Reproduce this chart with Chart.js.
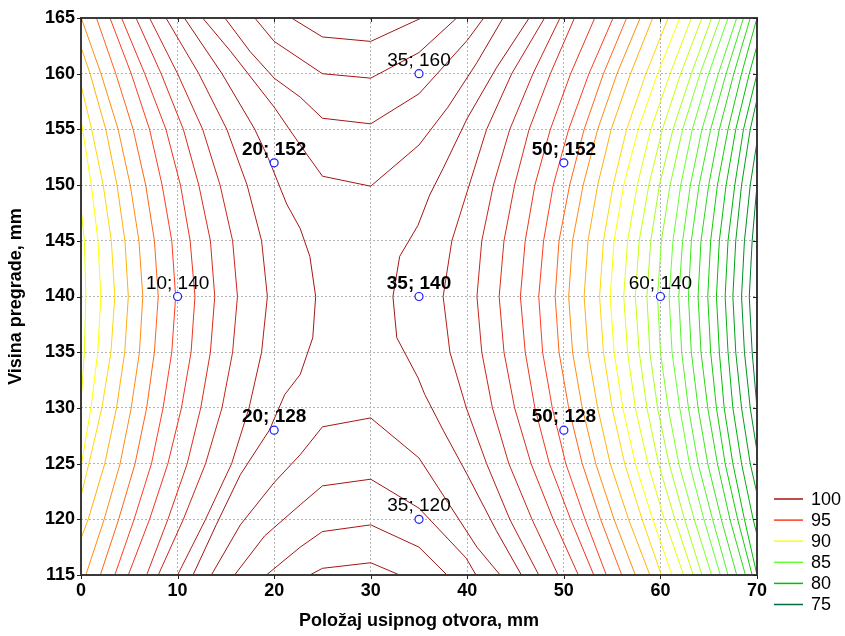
<!DOCTYPE html>
<html>
<head>
<meta charset="utf-8">
<title>Contour</title>
<script src="https://cdn.jsdelivr.net/npm/chart.js@4.4.1/dist/chart.umd.min.js"></script>
<style>
  body { margin: 0; background: #fff; }
  #wrap { width: 845px; height: 636px; }
</style>
</head>
<body>
<div id="wrap"><canvas id="contourChart" width="845" height="636"></canvas></div>
<script>
// measured points with their labels
const pointX = [10, 20, 35, 50, 60, 50, 35, 20, 35];
const pointY = [140, 152, 160, 152, 140, 128, 120, 128, 140];
const pointBold = [false, true, false, true, false, true, false, true, true];

// contour lines as [x, y] vertices
const leftLevels = [89, 90, 91, 92, 93, 94, 95, 96, 97, 98, 99, 100];
const leftLines = [
    [[0,148],[0.35,145],[0.5,140],[0.35,135],[0,130.5]],
    [[0,155.9],[1.07,150],[1.76,145],[2.05,140],[1.74,135],[1.03,130],[0,124.7]],
    [[0,159],[1.1,155],[2.3,150],[3.14,145],[3.5,140],[3.1,135],[2.16,130],[0.82,125],[0,122.1]],
    [[0,162.4],[0.94,160],[2.57,155],[3.73,150],[4.55,145],[4.9,140],[4.53,135],[3.68,130],[2.46,125],[0.75,120],[0,118.3]],
    [[0.03,165],[2.07,160],[3.85,155],[5.1,150],[6.0,145],[6.4,140],[6.05,135],[5.2,130],[4.05,125],[2.4,120],[0.5,115]],
    [[1.6,165],[3.6,160],[5.4,155],[6.7,150],[7.6,145],[8.0,140],[7.6,135],[6.8,130],[5.6,125],[3.9,120],[2.0,115]],
    [[3.0,165],[5.2,160],[7.1,155],[8.4,150],[9.4,145],[9.8,140],[9.4,135],[8.5,130],[7.3,125],[5.5,120],[3.5,115]],
    [[4.2,165],[6.6,160],[8.8,155],[10.3,150],[11.3,145],[11.8,140],[11.4,135],[10.4,130],[9.0,125],[7.1,120],[4.9,115]],
    [[5.7,165],[8.3,160],[10.6,155],[12.2,150],[13.4,145],[13.85,140],[13.4,135],[12.4,130],[11.0,125],[9.0,120],[6.8,115]],
    [[7.1,165],[10.0,160],[12.6,155],[14.4,150],[15.7,145],[16.2,140],[15.7,135],[14.6,130],[12.9,125],[10.6,120],[8.0,115]],
    [[8.8,165],[12.2,160],[15.1,155],[17.2,150],[18.7,145],[19.3,140],[18.7,135],[17.4,130],[15.6,125],[12.9,120],[10.0,115]],
    [[10.7,165],[14.6,160],[18.0,155],[19.4,152.4],[21.3,148.3],[22.7,146.1],[23.7,143.6],[24.3,140],[24.0,136.3],[22.7,133],[21.1,131.2],[19.5,128],[16.5,124],[14,119.5],[11.6,115]]
];

const topLevels = [101, 102, 103, 104];
const topLines = [
    [[12.6,165],[15.5,162],[20,157],[22.7,153.6],[25,150.8],[30,149.9],[35,153.6],[38,157],[41,161],[43.7,165]],
    [[14.9,165],[17.5,162],[20,159.6],[22.7,157.9],[25,156],[30,155.5],[35,158.2],[40,163],[41.7,165]],
    [[18,165],[20,162.9],[25,160],[30,159.6],[35,161.9],[38.9,165]],
    [[21.8,165],[25,163.3],[30,162.9],[35,164.9],[35.2,165]]
];

const bottomLevels = [101, 102, 103, 104];
const bottomLines = [
    [[13.5,115],[16.5,119.5],[20,123.3],[22.7,125.8],[25,128.3],[30,129.1],[35,125.5],[38,121.5],[41,117.5],[43.4,115]],
    [[15.9,115],[19,118.5],[22.7,121.3],[25,123],[30,123.6],[35,121],[39.9,116.5],[40.9,115]],
    [[19.2,115],[22.7,117.5],[25,118.9],[30,119.5],[35,117.5],[37.9,115]],
    [[23.7,115],[25,115.6],[30,116.1],[33,115]]
];

const rightLevels = [100, 99, 98, 97, 96, 95, 94, 93, 92, 91, 90, 89, 88, 87, 86, 85, 84, 83, 82, 81, 80, 79, 78, 77, 76];
const rightLines = [
    [[46.4,165],[43,160.5],[40,156],[37.5,151.5],[36.1,149.1],[34.9,146.4],[33,143.6],[32.3,140],[32.7,136.3],[34.9,132.7],[35.6,131.2],[37.5,128],[40,124],[43,119],[45.6,115]],
    [[48.0,165],[44.6,160],[42.0,155],[40.2,150],[38.4,145],[37.5,140],[38.2,135],[39.9,130],[42.0,125],[44.4,120],[47.4,115]],
    [[49.6,165],[46.8,160],[44.4,155],[42.7,150],[41.5,145],[41.0,140],[41.5,135],[42.6,130],[44.3,125],[46.7,120],[49.4,115]],
    [[51.1,165],[48.6,160],[46.4,155],[44.9,150],[43.8,145],[43.3,140],[43.8,135],[44.9,130],[46.6,125],[48.9,120],[51.5,115]],
    [[53.2,165],[50.7,160],[48.6,155],[47.0,150],[46.0,145],[45.5,140],[46.0,135],[47.0,130],[48.5,125],[50.7,120],[53.1,115]],
    [[55.1,165],[52.6,160],[50.5,155],[48.9,150],[47.9,145],[47.4,140],[47.8,135],[48.8,130],[50.2,125],[52.2,120],[54.4,115]],
    [[56.5,165],[54.1,160],[52.1,155],[50.6,150],[49.5,145],[49.1,140],[49.5,135],[50.5,130],[51.9,125],[53.8,120],[56.0,115]],
    [[57.9,165],[55.5,160],[53.5,155],[52.0,150],[50.9,145],[50.5,140],[50.9,135],[51.9,130],[53.3,125],[55.2,120],[57.4,115]],
    [[59.2,165],[56.9,160],[54.9,155],[53.5,150],[52.5,145],[52.1,140],[52.5,135],[53.5,130],[54.8,125],[56.7,120],[58.9,115]],
    [[60.8,165],[58.5,160],[56.5,155],[55.1,150],[54.1,145],[53.7,140],[54.1,135],[55.0,130],[56.3,125],[58.1,120],[60.1,115]],
    [[62.0,165],[59.7,160],[57.7,155],[56.2,150],[55.2,145],[54.8,140],[55.2,135],[56.1,130],[57.4,125],[59.2,120],[61.2,115]],
    [[63.2,165],[61.0,160],[59.0,155],[57.6,150],[56.6,145],[56.2,140],[56.6,135],[57.4,130],[58.7,125],[60.4,120],[62.4,115]],
    [[64.3,165],[62.1,160],[60.2,155],[58.8,150],[57.8,145],[57.4,140],[57.8,135],[58.6,130],[59.8,125],[61.5,120],[63.4,115]],
    [[65.3,165],[63.2,160],[61.3,155],[59.9,150],[59.0,145],[58.6,140],[58.9,135],[59.7,130],[60.9,125],[62.5,120],[64.3,115]],
    [[66.2,165],[64.1,160],[62.3,155],[61.0,150],[60.1,145],[59.7,140],[60.0,135],[60.8,130],[61.9,125],[63.5,120],[65.3,115]],
    [[67.0,165],[65.0,160],[63.3,155],[62.1,150],[61.3,145],[60.9,140],[61.2,135],[62.0,130],[63.0,125],[64.5,120],[66.2,115]],
    [[67.9,165],[66.0,160],[64.3,155],[63.1,150],[62.3,145],[61.9,140],[62.2,135],[62.9,130],[63.9,125],[65.4,120],[67.0,115]],
    [[68.6,165],[66.8,160],[65.2,155],[64.0,150],[63.2,145],[62.9,140],[63.2,135],[63.9,130],[64.9,125],[66.3,120],[67.9,115]],
    [[69.3,165],[67.6,160],[66.1,155],[65.0,150],[64.2,145],[63.9,140],[64.2,135],[64.9,130],[65.9,125],[67.2,120],[68.8,115]],
    [[70.0,165],[68.4,160],[67.0,155],[65.9,150],[65.2,145],[64.9,140],[65.2,135],[65.8,130],[66.7,125],[68.0,120],[69.5,115]],
    [[70,162.5],[69.2,160],[67.8,155],[66.8,150],[66.1,145],[65.8,140],[66.1,135],[66.6,130],[67.5,125],[68.7,120],[70.0,115]],
    [[70,160],[68.6,155],[67.7,150],[67.0,145],[66.7,140],[67.0,135],[67.5,130],[68.4,125],[69.6,120],[70,118.6]],
    [[70,157.7],[69.3,155],[68.4,150],[67.8,145],[67.5,140],[67.8,135],[68.4,130],[69.3,125],[70,122.3]],
    [[70,153.9],[69.3,150],[68.7,145],[68.4,140],[68.7,135],[69.3,130],[70,126.1]],
    [[70,150],[69.5,145],[69.2,140],[69.5,135],[70,130]]
];

// legend entries and their colours (colour ramp stops)
const legendLevels = [100, 95, 90, 85, 80, 75];
const legendColors = ['#a31515', '#ff3d1f', '#ffff00', '#66ff33', '#00c000', '#006b3c'];

const FONT = 'Arial, "Liberation Sans", sans-serif';

function hexToRgb(h) {
    return [parseInt(h.substr(1, 2), 16), parseInt(h.substr(3, 2), 16), parseInt(h.substr(5, 2), 16)];
}

// colour of a level, blended between the two nearest legend stops
function levelColor(level) {
    if (level >= legendLevels[0]) return legendColors[0];
    for (let i = 0; i < legendLevels.length - 1; i++) {
        const hi = legendLevels[i], lo = legendLevels[i + 1];
        if (level <= hi && level >= lo) {
            const t = (hi - level) / (hi - lo);
            const a = hexToRgb(legendColors[i]), b = hexToRgb(legendColors[i + 1]);
            const c = a.map((v, k) => Math.round(v + (b[k] - v) * t));
            return 'rgb(' + c.join(',') + ')';
        }
    }
    return legendColors[legendColors.length - 1];
}

function contourSets(levels, lines) {
    return lines.map((pts, i) => ({
        label: String(levels[i]),
        data: pts.map(p => ({ x: p[0], y: p[1] })),
        showLine: true,
        borderColor: levelColor(levels[i]),
        borderWidth: 1,
        pointRadius: 0,
        pointHoverRadius: 0,
        tension: 0
    }));
}

const overlayPlugin = {
    id: 'overlay',
    afterDraw(chart) {
        const { ctx, chartArea: a, scales: { x, y } } = chart;
        ctx.save();

        // plot frame
        ctx.strokeStyle = '#3a3a3a';
        ctx.lineWidth = 2;
        ctx.strokeRect(a.left, a.top, a.right - a.left, a.bottom - a.top);

        // small tick marks: outside on left/bottom, inside on top/right
        ctx.lineWidth = 1;
        ctx.strokeStyle = '#222';
        ctx.beginPath();
        x.ticks.forEach(t => {
            const px = Math.round(x.getPixelForValue(t.value)) + 0.5;
            ctx.moveTo(px, a.bottom); ctx.lineTo(px, a.bottom + 4);
            ctx.moveTo(px, a.top); ctx.lineTo(px, a.top + 4);
        });
        y.ticks.forEach(t => {
            const py = Math.round(y.getPixelForValue(t.value)) + 0.5;
            ctx.moveTo(a.left - 4, py); ctx.lineTo(a.left, py);
            ctx.moveTo(a.right - 4, py); ctx.lineTo(a.right, py);
        });
        ctx.stroke();

        // point labels
        ctx.fillStyle = '#000';
        ctx.textAlign = 'center';
        ctx.textBaseline = 'alphabetic';
        pointX.forEach((px, i) => {
            ctx.font = (pointBold[i] ? 'bold ' : '') + '19px ' + FONT;
            ctx.fillText(px + '; ' + pointY[i], x.getPixelForValue(px), y.getPixelForValue(pointY[i]) - 8);
        });

        // legend
        ctx.font = '18px ' + FONT;
        ctx.textAlign = 'left';
        ctx.textBaseline = 'middle';
        legendLevels.forEach((lv, i) => {
            const ly = 499 + i * 21.1;
            ctx.strokeStyle = legendColors[i];
            ctx.lineWidth = 1.5;
            ctx.beginPath();
            ctx.moveTo(774, ly);
            ctx.lineTo(803, ly);
            ctx.stroke();
            ctx.fillStyle = '#000';
            ctx.fillText(String(lv), 811, ly + 1);
        });
        ctx.restore();
    }
};

const markerSet = {
    label: 'points',
    data: pointX.map((v, i) => ({ x: v, y: pointY[i] })),
    showLine: false,
    pointRadius: 4,
    pointBorderColor: '#1a1aff',
    pointBackgroundColor: '#ffffff',
    pointBorderWidth: 1.2
};

const datasets = [markerSet]
    .concat(contourSets(topLevels, topLines))
    .concat(contourSets(bottomLevels, bottomLines))
    .concat(contourSets(leftLevels, leftLines))
    .concat(contourSets(rightLevels, rightLines));

new Chart(document.getElementById('contourChart').getContext('2d'), {
    type: 'scatter',
    data: { datasets: datasets },
    options: {
        responsive: false,
        animation: false,
        devicePixelRatio: 1,
        layout: { padding: { left: 0, right: 88, top: 18, bottom: 0 } },
        plugins: {
            legend: { display: false },
            tooltip: { enabled: false }
        },
        scales: {
            x: {
                type: 'linear',
                min: 0,
                max: 70,
                ticks: {
                    stepSize: 10,
                    color: '#000',
                    padding: 5,
                    font: { family: FONT, size: 18, weight: 'bold' }
                },
                grid: { color: '#b4b4b4', drawTicks: false },
                border: { display: false, dash: [2, 2] },
                title: {
                    display: true,
                    text: 'Položaj usipnog otvora, mm',
                    color: '#000',
                    font: { family: FONT, size: 18, weight: 'bold' },
                    padding: { top: 6 }
                },
                afterFit(scale) { scale.height = 61; }
            },
            y: {
                type: 'linear',
                min: 115,
                max: 165,
                ticks: {
                    stepSize: 5,
                    color: '#000',
                    padding: 6,
                    font: { family: FONT, size: 18, weight: 'bold' }
                },
                grid: { color: '#b4b4b4', drawTicks: false },
                border: { display: false, dash: [2, 2] },
                title: {
                    display: true,
                    text: 'Visina pregrade, mm',
                    color: '#000',
                    font: { family: FONT, size: 18, weight: 'bold' },
                    padding: { top: 5, bottom: 0 }
                },
                afterFit(scale) { scale.width = 81; }
            }
        }
    },
    plugins: [overlayPlugin]
});
</script>
</body>
</html>
